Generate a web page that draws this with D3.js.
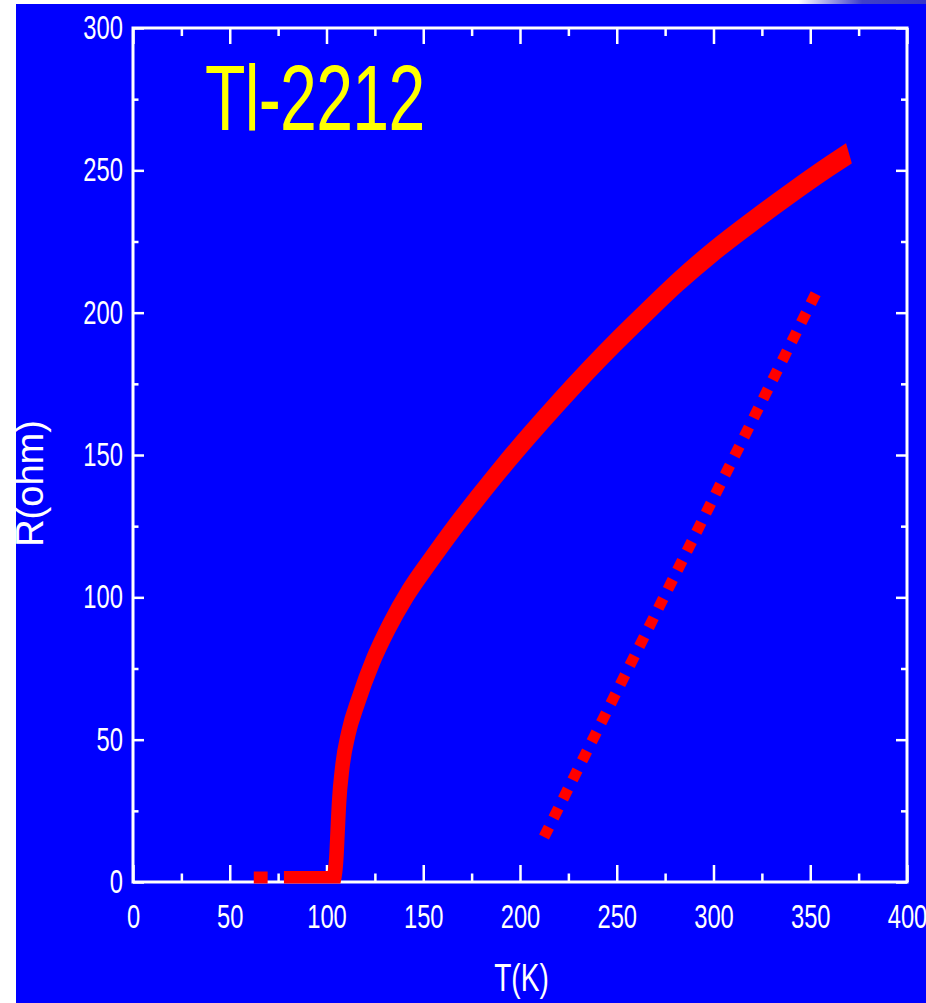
<!DOCTYPE html>
<html>
<head>
<meta charset="utf-8">
<script src="https://cdn.jsdelivr.net/npm/d3@7"></script>
<style>
  html, body { margin: 0; padding: 0; background: #ffffff; }
  svg { display: block; }
  text { font-family: "Liberation Sans", Arial, sans-serif; }
</style>
</head>
<body>
<svg id="chart" width="926" height="1003"></svg>
<script>
// ---------------- data ----------------
const chartTitle = "Tl-2212";
const xTitle = "T(K)";
const yTitle = "R(ohm)";

const tempK      = [78, 103, 104.5, 105.2, 105.7, 106.5, 108.2, 111.3, 116.5, 124.2, 132.3, 142,   153.9, 165,   177, 190, 205, 220,   235,   250, 265, 282, 300,   320, 340, 360,   370];
const resistance = [0,  0,   4,     10,    17.1,  28,    40.5,  52.2,  63.9,  78,    89.7,  101.4, 113.1, 123.5, 134, 145, 157, 168.5, 179.5, 190, 200, 211, 221.5, 232, 242, 251.5, 256];

const isolatedT = [66];
const isolatedR = [0];

const guideT = [212.4, 353.5];
const guideR = [15.8, 207.6];

const xTicks = [0, 50, 100, 150, 200, 250, 300, 350, 400];
const xMinorTicks = [25, 75, 125, 175, 225, 275, 325, 375];
const yTicks = [0, 50, 100, 150, 200, 250, 300];
const yMinorTicks = [25, 75, 125, 175, 225, 275];

// ---------------- layout ----------------
const W = 926, H = 1003;
const plot = { left: 133, right: 907, top: 28, bottom: 882 };
const SQ = 0.72;       // horizontal squeeze of the original lettering
const MK = 0.66;       // horizontal squeeze of marker stroke

const svg = d3.select("#chart");

// background
svg.append("rect").attr("x", 0).attr("y", 0).attr("width", W).attr("height", H).attr("fill", "#ffffff");
const defs = svg.append("defs");
const grad = defs.append("linearGradient").attr("id", "topfade").attr("x1", 0).attr("x2", 1).attr("y1", 0).attr("y2", 0);
grad.append("stop").attr("offset", "0%").attr("stop-color", "#ffffff");
grad.append("stop").attr("offset", "70%").attr("stop-color", "#ffffff");
grad.append("stop").attr("offset", "85%").attr("stop-color", "#4040c8");
grad.append("stop").attr("offset", "100%").attr("stop-color", "#3535c8");
svg.append("rect").attr("x", 500).attr("y", 0).attr("width", W - 500).attr("height", 4).attr("fill", "url(#topfade)");
svg.append("rect").attr("x", 16).attr("y", 4).attr("width", W - 16).attr("height", H - 4).attr("fill", "#0000ff");

defs.append("clipPath").attr("id", "plotclip")
  .append("rect")
  .attr("x", plot.left).attr("y", plot.top)
  .attr("width", plot.right - plot.left).attr("height", plot.bottom - plot.top + 1.5);

const x = d3.scaleLinear().domain([0, 400]).range([plot.left, plot.right]);
const y = d3.scaleLinear().domain([0, 300]).range([plot.bottom, plot.top]);

// ---------------- axes / ticks ----------------
function styleAxis(g) {
  g.select(".domain").remove();
  g.selectAll(".tick line").attr("stroke", "#ffffff").attr("stroke-width", 2.5);
}

// frame
svg.append("rect")
  .attr("x", plot.left).attr("y", plot.top)
  .attr("width", plot.right - plot.left).attr("height", plot.bottom - plot.top)
  .attr("fill", "none").attr("stroke", "#ffffff").attr("stroke-width", 3);

// bottom major with labels
const bottomAxis = svg.append("g")
  .attr("transform", `translate(0,${plot.bottom})`)
  .call(d3.axisBottom(x).tickValues(xTicks).tickSizeInner(-17).tickSizeOuter(0).tickPadding(22.6).tickFormat(d3.format("d")));
styleAxis(bottomAxis);
bottomAxis.selectAll(".tick text")
  .attr("fill", "#ffffff")
  .attr("font-size", 33)
  .attr("font-family", "'Liberation Sans', Arial, sans-serif")
  .attr("transform", `scale(${SQ},1)`);

svg.append("g")
  .attr("transform", `translate(0,${plot.bottom})`)
  .call(d3.axisBottom(x).tickValues(xMinorTicks).tickSizeInner(-8.5).tickSizeOuter(0).tickFormat(""))
  .call(styleAxis);

// top
svg.append("g")
  .attr("transform", `translate(0,${plot.top})`)
  .call(d3.axisTop(x).tickValues(xTicks).tickSizeInner(-16).tickSizeOuter(0).tickFormat(""))
  .call(styleAxis);
svg.append("g")
  .attr("transform", `translate(0,${plot.top})`)
  .call(d3.axisTop(x).tickValues(xMinorTicks).tickSizeInner(-8).tickSizeOuter(0).tickFormat(""))
  .call(styleAxis);

// left major with labels
const leftAxis = svg.append("g")
  .attr("transform", `translate(${plot.left},0)`)
  .call(d3.axisLeft(y).tickValues(yTicks).tickSizeInner(-11).tickSizeOuter(0).tickPadding(10).tickFormat(d3.format("d")));
styleAxis(leftAxis);
leftAxis.selectAll(".tick text")
  .attr("fill", "#ffffff")
  .attr("font-size", 33)
  .attr("font-family", "'Liberation Sans', Arial, sans-serif")
  .attr("x", -10 / SQ)
  .attr("transform", `scale(${SQ},1)`);

svg.append("g")
  .attr("transform", `translate(${plot.left},0)`)
  .call(d3.axisLeft(y).tickValues(yMinorTicks).tickSizeInner(-5.5).tickSizeOuter(0).tickFormat(""))
  .call(styleAxis);

// right
svg.append("g")
  .attr("transform", `translate(${plot.right},0)`)
  .call(d3.axisRight(y).tickValues(yTicks).tickSizeInner(-11).tickSizeOuter(0).tickFormat(""))
  .call(styleAxis);
svg.append("g")
  .attr("transform", `translate(${plot.right},0)`)
  .call(d3.axisRight(y).tickValues(yMinorTicks).tickSizeInner(-6).tickSizeOuter(0).tickFormat(""))
  .call(styleAxis);

// ---------------- data marks (drawn over the frame) ----------------
const clipG = svg.append("g").attr("clip-path", "url(#plotclip)");
const markG = clipG.append("g").attr("transform", `scale(${MK},1)`);

const mainData = tempK.map((t, i) => [t, resistance[i]]);
const lineScaled = d3.line()
  .x(d => x(d[0]) / MK)
  .y(d => y(d[1]))
  .curve(d3.curveMonotoneX);

markG.append("path")
  .datum(mainData)
  .attr("d", lineScaled)
  .attr("fill", "none")
  .attr("stroke", "#ff0000")
  .attr("stroke-width", 22)
  .attr("stroke-linejoin", "round")
  .attr("stroke-linecap", "butt");

isolatedT.forEach((t, i) => {
  const pt = [t, isolatedR[i]];
  markG.append("path")
    .attr("d", d3.line().x(d => x(d[0]) / MK).y(d => y(d[1]))([pt, pt]))
    .attr("fill", "none")
    .attr("stroke", "#ff0000")
    .attr("stroke-width", 21)
    .attr("stroke-linecap", "square");
});

const guideData = guideT.map((t, i) => [t, guideR[i]]);
clipG.append("path")
  .datum(guideData)
  .attr("d", d3.line().x(d => x(d[0])).y(d => y(d[1])))
  .attr("fill", "none")
  .attr("stroke", "#ff0000")
  .attr("stroke-width", 11)
  .attr("stroke-dasharray", "11,10.3")
  .attr("stroke-linecap", "butt");

// ---------------- texts ----------------
svg.append("text")
  .attr("transform", `translate(205,130) scale(${SQ},1)`)
  .attr("fill", "#ffff00")
  .attr("font-size", 92)
  .attr("letter-spacing", -1)
  .text(chartTitle);

svg.append("text")
  .attr("transform", `translate(521.5,991) scale(${SQ},1)`)
  .attr("text-anchor", "middle")
  .attr("fill", "#ffffff")
  .attr("font-size", 39)
  .text(xTitle);

svg.append("text")
  .attr("transform", "translate(43,483.5) rotate(-90)")
  .attr("text-anchor", "middle")
  .attr("fill", "#ffffff")
  .attr("font-size", 38)
  .text(yTitle);
</script>
</body>
</html>
